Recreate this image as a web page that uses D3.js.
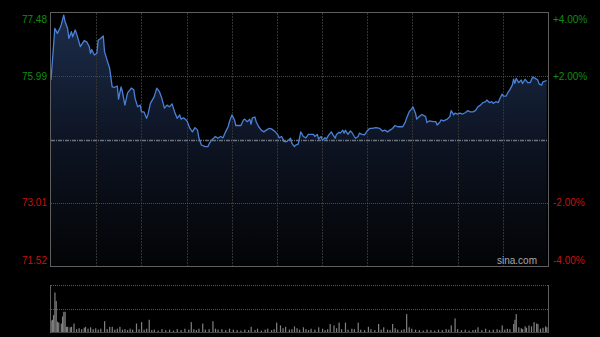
<!DOCTYPE html>
<html>
<head>
<meta charset="utf-8">
<script src="https://d3js.org/d3.v7.min.js"></script>
<style>
  body { margin: 0; background: #000; }
  svg { display: block; }
  text { font-family: Arial, "Liberation Sans", sans-serif; font-size: 10px; }
</style>
</head>
<body>
<svg id="chart" width="600" height="337"></svg>
<script>
// minute of the session (0..390) and last price
var times = [
  0, 3, 5, 7, 8, 10, 11, 13, 14, 16,
  17, 19, 20, 23, 26, 28, 30, 31, 32, 34,
  36, 37, 39, 41, 42, 44, 46, 48, 50, 52,
  53, 55, 56, 58, 60, 63, 65, 66, 68, 70,
  71, 73, 75, 76, 78, 81, 83, 85, 87, 89,
  91, 93, 95, 97, 99, 101, 102, 104, 106, 107,
  109, 111, 113, 115, 116, 118, 121, 123, 124, 126,
  128, 129, 131, 133, 135, 137, 139, 140, 142, 144,
  145, 147, 149, 151, 152, 154, 156, 157, 158, 160,
  161, 163, 165, 167, 169, 171, 173, 176, 178, 179,
  181, 183, 185, 188, 189, 191, 192, 194, 196, 198,
  200, 202, 204, 206, 207, 209, 210, 212, 213, 215,
  216, 218, 220, 221, 223, 224, 226, 227, 229, 230,
  231, 233, 235, 236, 238, 239, 241, 242, 244, 246,
  248, 250, 252, 255, 258, 260, 262, 264, 266, 268,
  270, 272, 274, 276, 278, 279, 281, 283, 284, 286,
  287, 289, 291, 294, 295, 297, 300, 302, 303, 305,
  306, 308, 311, 313, 314, 316, 317, 319, 321, 323,
  325, 327, 329, 331, 333, 335, 337, 339, 341, 342,
  344, 346, 347, 349, 351, 352, 354, 355, 357, 359,
  360, 362, 363, 364, 365, 367, 369, 370, 372, 374,
  376, 378, 380, 382, 383, 385, 386, 389
];
var prices = [
  75.90, 77.12, 77.00, 77.12, 77.20, 77.43, 77.28, 77.12, 76.88, 77.04,
  76.92, 77.08, 77.00, 76.69, 76.83, 76.80, 76.69, 76.53, 76.62, 76.49,
  76.53, 76.84, 76.88, 76.94, 76.57, 76.37, 76.18, 75.74, 75.73, 75.76,
  75.45, 75.74, 75.63, 75.31, 75.59, 75.71, 75.67, 75.47, 75.27, 75.31,
  75.15, 75.15, 75.00, 75.08, 75.35, 75.51, 75.71, 75.63, 75.47, 75.24,
  75.31, 75.27, 75.34, 75.15, 75.00, 75.08, 74.98, 75.01, 74.96, 74.92,
  74.76, 74.68, 74.78, 74.72, 74.54, 74.37, 74.33, 74.33, 74.39, 74.49,
  74.54, 74.57, 74.53, 74.57, 74.54, 74.68, 74.80, 74.92, 75.08, 74.96,
  74.83, 74.83, 74.83, 74.96, 74.98, 74.92, 74.98, 74.86, 75.01, 75.03,
  74.92, 74.80, 74.72, 74.68, 74.72, 74.76, 74.75, 74.68, 74.61, 74.54,
  74.57, 74.45, 74.45, 74.53, 74.41, 74.33, 74.37, 74.39, 74.68, 74.57,
  74.54, 74.62, 74.62, 74.62, 74.57, 74.62, 74.51, 74.57, 74.48, 74.54,
  74.51, 74.61, 74.68, 74.62, 74.53, 74.62, 74.67, 74.65, 74.72, 74.65,
  74.72, 74.62, 74.70, 74.67, 74.57, 74.53, 74.57, 74.65, 74.62, 74.61,
  74.70, 74.76, 74.76, 74.78, 74.76, 74.70, 74.72, 74.68, 74.72, 74.76,
  74.83, 74.80, 74.80, 74.80, 74.91, 75.00, 75.15, 75.22, 75.27, 75.12,
  74.98, 75.04, 75.09, 75.04, 74.90, 74.94, 74.92, 74.92, 74.84, 74.90,
  74.96, 74.94, 74.98, 75.04, 75.18, 75.08, 75.12, 75.10, 75.12, 75.10,
  75.13, 75.18, 75.15, 75.15, 75.18, 75.27, 75.31, 75.37, 75.39, 75.43,
  75.37, 75.39, 75.35, 75.39, 75.37, 75.45, 75.57, 75.52, 75.52, 75.63,
  75.67, 75.78, 75.92, 75.82, 75.94, 75.84, 75.90, 75.82, 75.92, 75.84,
  75.84, 75.97, 75.94, 75.90, 75.81, 75.78, 75.86, 75.89
];

// volume bars (minute, relative volume)
var volTimes = [
  0, 1, 2, 3, 4, 5, 6, 8, 9, 10, 11, 12, 13, 15, 16, 18, 20, 22, 24, 26,
  27, 29, 31, 33, 35, 37, 39, 42, 44, 46, 48, 50, 52, 54, 56, 58, 60, 62, 64, 67,
  69, 71, 73, 75, 77, 79, 81, 84, 87, 90, 93, 96, 99, 102, 105, 108, 110, 112, 114, 116,
  119, 121, 124, 127, 129, 131, 134, 137, 140, 143, 146, 149, 152, 155, 157, 160, 162, 165, 168, 170,
  173, 175, 177, 180, 182, 184, 187, 189, 191, 193, 195, 198, 200, 202, 204, 207, 210, 213, 215, 217,
  219, 222, 224, 226, 228, 231, 233, 236, 238, 241, 243, 246, 249, 251, 254, 257, 259, 261, 264, 266,
  268, 270, 272, 275, 277, 279, 281, 283, 286, 289, 292, 295, 298, 301, 304, 307, 310, 312, 314, 317,
  319, 322, 325, 328, 331, 333, 335, 338, 341, 344, 347, 350, 352, 354, 356, 358, 360, 363, 364, 365,
  367, 369, 370, 372, 373, 375, 377, 379, 381, 382, 384, 386, 388, 389
];
var volValues = [
  24, 26, 36, 84, 66, 22, 20, 18, 33, 43, 43, 11, 11, 10, 11, 18, 6, 8, 6, 9,
  11, 7, 10, 6, 8, 5, 7, 23, 6, 11, 11, 5, 7, 11, 5, 6, 4, 7, 5, 18,
  6, 21, 5, 7, 26, 4, 5, 3, 6, 4, 5, 3, 6, 4, 7, 5, 21, 6, 4, 7,
  18, 5, 6, 23, 7, 5, 6, 4, 7, 5, 4, 3, 5, 4, 11, 4, 7, 3, 5, 7,
  4, 6, 20, 14, 8, 11, 5, 6, 12, 8, 5, 10, 6, 4, 7, 5, 10, 7, 4, 6,
  17, 14, 8, 20, 6, 20, 5, 7, 6, 20, 5, 4, 11, 6, 4, 17, 5, 10, 5, 4,
  17, 8, 5, 4, 6, 38, 10, 7, 5, 4, 3, 5, 4, 3, 5, 4, 6, 5, 14, 29,
  6, 4, 5, 3, 4, 5, 10, 4, 7, 4, 5, 6, 4, 14, 5, 7, 6, 17, 26, 38,
  10, 8, 6, 12, 9, 14, 12, 21, 18, 17, 7, 9, 12, 10
];

var prevClose = 74.50;
var priceTicks = [77.48, 75.99, 74.50, 73.01, 71.52];

(function () {
  var svg = d3.select("#chart");
  var mLeft = 51, mRight = 548, mTop = 13, mBottom = 266;
  var volTop = 285, volBottom = 332;

  var x = d3.scaleLinear().domain([0, 390]).range([mLeft, mRight]);
  var y = d3.scaleLinear().domain([71.52, 77.48]).range([mBottom, mTop]);
  var yVol = d3.scaleLinear().domain([0, 100]).range([volBottom, volTop]);

  var data = times.map(function (t, i) { return { t: t, p: prices[i] }; });

  // gradient for the area
  var grad = svg.append("defs").append("linearGradient")
    .attr("id", "fade")
    .attr("gradientUnits", "userSpaceOnUse")
    .attr("x1", 0).attr("y1", mTop).attr("x2", 0).attr("y2", mBottom);
  grad.append("stop").attr("offset", "0%").attr("stop-color", "#1c2d4b");
  grad.append("stop").attr("offset", "55%").attr("stop-color", "#0c1220");
  grad.append("stop").attr("offset", "100%").attr("stop-color", "#030405");

  // area under the line
  svg.append("path")
    .datum(data)
    .attr("fill", "url(#fade)")
    .attr("d", d3.area()
      .x(function (d) { return x(d.t); })
      .y0(mBottom)
      .y1(function (d) { return y(d.p); }));

  // vertical grid
  var gridTimes = d3.range(1, 11).map(function (i) { return 390 * i / 11; });
  svg.append("g")
    .selectAll("line")
    .data(gridTimes)
    .enter()
    .append("line")
    .attr("x1", function (d) { return Math.round(x(d)) + 0.5; })
    .attr("x2", function (d) { return Math.round(x(d)) + 0.5; })
    .attr("y1", mTop)
    .attr("y2", mBottom)
    .attr("stroke", "#333")
    .attr("stroke-dasharray", "2,1");

  // horizontal grid
  svg.append("g")
    .selectAll("line")
    .data(priceTicks.slice(1, 4))
    .enter()
    .append("line")
    .attr("x1", mLeft)
    .attr("x2", mRight)
    .attr("y1", function (d) { return Math.round(y(d)) + 0.5; })
    .attr("y2", function (d) { return Math.round(y(d)) + 0.5; })
    .attr("stroke", function (d) { return d === prevClose ? "#6c727c" : "#4a4a4a"; })
    .attr("stroke-width", function (d) { return d === prevClose ? 1.3 : 1; })
    .attr("stroke-dasharray", function (d) { return d === prevClose ? "4,1,1,1" : "1,1"; });

  // price line
  svg.append("path")
    .datum(data)
    .attr("fill", "none")
    .attr("stroke", "#4a80d6")
    .attr("stroke-width", 1.3)
    .attr("stroke-linejoin", "round")
    .attr("d", d3.line()
      .x(function (d) { return x(d.t); })
      .y(function (d) { return y(d.p); }));

  // frame
  svg.append("rect")
    .attr("x", mLeft - 0.5).attr("y", mTop - 0.5)
    .attr("width", mRight - mLeft + 1).attr("height", mBottom - mTop + 1)
    .attr("fill", "none")
    .attr("stroke", "#5e5e5e");

  // price and percent labels, clamped inside the frame
  function labelY(v) {
    return Math.max(mTop + 6, Math.min(mBottom - 6, y(v)));
  }
  var labelled = priceTicks.filter(function (d) { return d !== prevClose; });
  function tone(d) { return d > prevClose ? "#0f8f0f" : "#c41212"; }

  svg.append("g")
    .selectAll("text")
    .data(labelled)
    .enter()
    .append("text")
    .attr("x", 47)
    .attr("y", labelY)
    .attr("dy", "0.35em")
    .attr("text-anchor", "end")
    .attr("fill", tone)
    .text(function (d) { return d.toFixed(2); });

  svg.append("g")
    .selectAll("text")
    .data(labelled)
    .enter()
    .append("text")
    .attr("x", 553)
    .attr("y", labelY)
    .attr("dy", "0.35em")
    .attr("fill", tone)
    .text(function (d) {
      var pct = (d / prevClose - 1) * 100;
      return (pct > 0 ? "+" : "") + pct.toFixed(2) + "%";
    });

  // watermark
  svg.append("text")
    .attr("x", 537)
    .attr("y", 264)
    .attr("text-anchor", "end")
    .attr("fill", "#a8a8a8")
    .text("sina.com");

  // volume panel
  var vol = svg.append("g");
  vol.selectAll("line.grid")
    .data([100, 50])
    .enter()
    .append("line")
    .attr("class", "grid")
    .attr("x1", mLeft).attr("x2", mRight)
    .attr("y1", function (d) { return Math.round(yVol(d)) + 0.5; })
    .attr("y2", function (d) { return Math.round(yVol(d)) + 0.5; })
    .attr("stroke", "#555")
    .attr("stroke-dasharray", "1,1");

  vol.selectAll("rect")
    .data(volTimes)
    .enter()
    .append("rect")
    .attr("x", function (d) { return x(d) - 0.5; })
    .attr("width", 1.2)
    .attr("y", function (d, i) { return yVol(volValues[i]); })
    .attr("height", function (d, i) { return volBottom - yVol(volValues[i]); })
    .attr("fill", "#808080");

  vol.append("line")
    .attr("x1", mLeft).attr("x2", mRight)
    .attr("y1", volBottom + 0.5).attr("y2", volBottom + 0.5)
    .attr("stroke", "#444");

  vol.selectAll("line.side")
    .data([mLeft - 0.5, mRight + 0.5])
    .enter()
    .append("line")
    .attr("class", "side")
    .attr("x1", function (d) { return d; }).attr("x2", function (d) { return d; })
    .attr("y1", volTop).attr("y2", volBottom + 1)
    .attr("stroke", "#5e5e5e");
})();
</script>
</body>
</html>
